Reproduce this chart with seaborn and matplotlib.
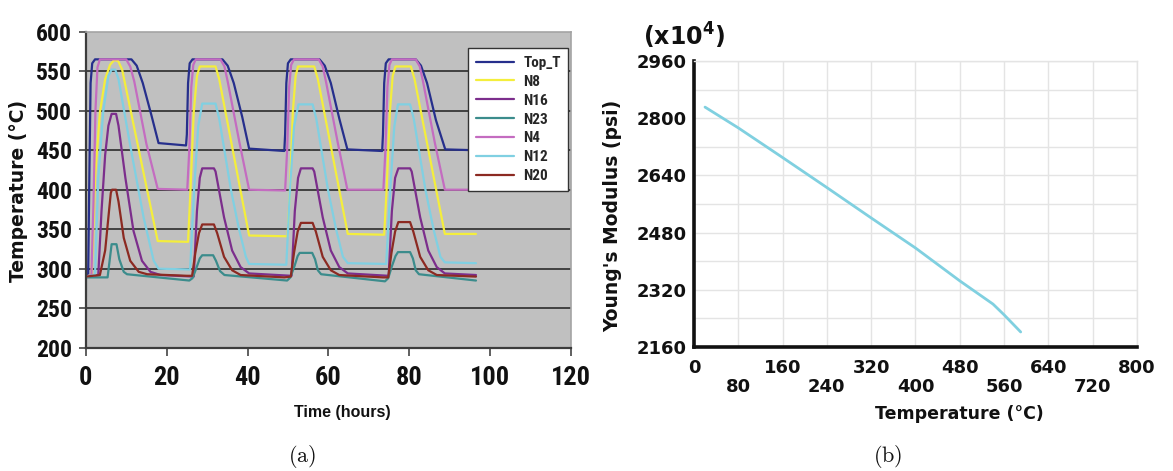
import matplotlib
matplotlib.use("Agg")
import matplotlib.pyplot as plt
from matplotlib import font_manager as fm
import pandas as pd
import seaborn as sns

# ---------------- data : panel (a) ----------------
names = ["Top_T", "N8", "N16", "N23", "N4", "N12", "N20"]
colors = ["#262f8c", "#f4ee3c", "#7c2e8c", "#3b8c8c", "#c46cc0", "#80d0e2", "#8c2a22"]

topT_t = [0, 0.6, 0.9, 1.2, 1.6, 2.3, 11.3, 12.6, 14.1, 16.2, 18.0, 24.8, 25.0, 25.3, 25.7, 26.4,
          33.8, 35.1, 36.6, 38.7, 40.4, 49.1, 49.3, 49.6, 50.0, 50.7, 57.8, 59.1, 60.6, 62.7, 64.7,
          73.3, 73.5, 73.8, 74.2, 74.9, 81.6, 82.9, 84.4, 86.6, 88.9, 96.0]
topT_T = [290, 293, 420, 535, 560, 565, 565, 557, 535, 495, 459, 456, 470, 535, 560, 565,
          565, 557, 535, 492, 452, 449, 470, 535, 560, 565, 565, 557, 535, 490, 451,
          449, 470, 535, 560, 565, 565, 557, 535, 488, 451, 450]

n8_t = [0, 1.4, 1.8, 2.3, 3.5, 4.8, 6.0, 7.0, 8.0, 9.0, 17.8, 25.3, 25.9, 26.7, 27.5, 28.2,
        32.1, 33.0, 40.4, 49.9, 50.5, 51.2, 51.9, 52.5, 56.5, 57.4, 64.8, 73.8, 74.4, 75.2,
        75.9, 76.6, 80.4, 81.3, 88.8, 96.5]
n8_T = [290, 292, 340, 415, 498, 540, 558, 564, 563, 552, 335, 334, 400, 498, 544, 556,
        556, 540, 342, 341, 400, 498, 544, 556, 556, 540, 344, 343, 400, 498,
        544, 556, 556, 540, 344, 344]

n16_t = [0, 3.1, 3.9, 4.8, 5.6, 6.4, 7.5, 8.1, 9.8, 11.8, 13.9, 16.0, 18.5, 26.7, 27.5, 28.2,
         28.8, 31.7, 32.1, 34.2, 36.2, 38.3, 40.4, 50.9, 51.7, 52.5, 53.2, 56.1, 56.5, 58.6,
         60.6, 62.7, 64.8, 74.9, 75.7, 76.5, 77.3, 80.2, 80.6, 82.7, 84.7, 86.8, 88.8, 96.5]
n16_T = [290, 292, 373, 444, 481, 496, 496, 481, 415, 348, 310, 296, 292, 290, 373, 415,
         427, 427, 423, 365, 323, 302, 294, 291, 373, 415, 427, 427, 423, 365,
         323, 302, 294, 291, 373, 415, 427, 427, 423, 365, 323, 302, 294, 292]

n23_t = [0, 0.05, 5.4, 5.9, 6.4, 7.6, 8.3, 9.4, 10.2, 25.6, 26.4, 27.3, 28.2, 28.8, 31.5, 32.2,
         33.2, 34.3, 49.8, 50.6, 51.6, 52.4, 52.9, 56.0, 56.7, 57.4, 58.2, 74.0, 74.8, 75.7,
         76.6, 77.2, 80.2, 80.9, 81.6, 82.4, 96.5]
n23_T = [200, 289, 289, 310, 331, 331, 312, 296, 293, 285, 288, 300, 313, 317, 317, 310,
         297, 292, 285, 289, 303, 316, 320, 320, 312, 298, 293, 284, 288, 303,
         316, 321, 321, 313, 298, 293, 285]

n4_t = [0, 1.4, 1.9, 2.4, 2.9, 3.5, 10.0, 11.0, 12.0, 15.0, 17.8, 25.1, 25.6, 26.1, 26.6, 27.2,
        33.3, 34.3, 35.1, 38.0, 40.4, 49.3, 49.8, 50.3, 50.8, 51.5, 57.6, 58.6, 59.4, 62.3, 64.7,
        73.6, 74.1, 74.6, 75.1, 75.7, 81.6, 82.6, 83.4, 86.3, 88.8, 96.5]
n4_T = [290, 292, 380, 500, 555, 565, 565, 556, 537, 458, 401, 400, 450, 530, 558, 565,
        565, 556, 537, 460, 400, 399, 450, 530, 558, 565, 565, 556, 537, 460, 400,
        400, 450, 530, 558, 565, 565, 556, 537, 460, 400, 400]

n12_t = [0, 2.3, 3.1, 4.3, 5.6, 6.4, 7.3, 8.1, 11.0, 14.3, 16.8, 18.0, 25.8, 26.8, 27.8, 28.8,
         32.1, 33.0, 35.9, 37.9, 39.6, 40.4, 49.6, 50.5, 51.5, 52.6, 56.1, 57.0, 59.9, 61.9,
         63.6, 64.8, 74.3, 75.3, 76.3, 77.2, 80.2, 81.1, 84.0, 86.0, 87.7, 88.8, 96.5]
n12_T = [290, 292, 415, 498, 544, 552, 552, 540, 456, 365, 310, 300, 299, 400, 480, 509,
         509, 490, 400, 350, 315, 306, 305, 400, 480, 508, 508, 490, 400, 350,
         315, 307, 306, 400, 480, 508, 508, 490, 400, 350, 315, 308, 307]

n20_t = [0, 3.5, 4.8, 5.6, 6.2, 6.5, 7.5, 8.1, 9.4, 11.0, 13.1, 15.2, 25.1, 26.3, 27.1, 28.0,
         28.8, 31.7, 32.5, 34.2, 36.2, 38.3, 49.1, 50.7, 51.5, 52.4, 53.2, 56.1, 56.9, 58.6,
         60.6, 62.7, 73.5, 74.8, 75.6, 76.5, 77.3, 80.2, 81.0, 82.7, 84.7, 86.8, 96.5]
n20_T = [290, 292, 323, 365, 396, 400, 400, 385, 339, 310, 296, 293, 291, 291, 320, 345,
         356, 356, 345, 315, 298, 292, 289, 290, 320, 347, 358, 358, 347, 315,
         298, 292, 289, 289, 320, 347, 359, 359, 347, 315, 298, 292, 290]

xticks_a = [0, 20, 40, 60, 80, 100, 120]
yticks_a = [200, 250, 300, 350, 400, 450, 500, 550, 600]

# ---------------- data : panel (b) ----------------
b_temp = [20, 80, 160, 240, 320, 400, 480, 540, 560, 590]
b_mod = [2831, 2773, 2690, 2606, 2521, 2437, 2345, 2280, 2250, 2202]
xticks_b_major = [0, 160, 320, 480, 640, 800]
xticks_b_minor = [80, 240, 400, 560, 720]
yticks_b_major = [2160, 2320, 2480, 2640, 2800, 2960]
yticks_b_minor = [2240, 2400, 2560, 2720, 2880]

# ---------------- style ----------------
sns.set_theme(style="white")
plt.rcParams["font.family"] = ["DejaVu Sans"]

avail = {f.name for f in fm.fontManager.ttflist}
narrow = None
for cand in ["Liberation Sans Narrow", "Roboto Condensed", "Open Sans Condensed",
             "Noto Sans Condensed", "Arial Narrow"]:
    if cand in avail:
        narrow = cand
        break
if narrow is not None:
    ysz, xsz, lsz = 17, 19, 11
else:
    narrow = "Liberation Sans"
    ysz, xsz, lsz = 15.5, 16.5, 10

fig = plt.figure(figsize=(11.73, 4.71), dpi=100)
axA = fig.add_axes([0.0731, 0.2618, 0.4137, 0.6709])
axB = fig.add_axes([0.5916, 0.2633, 0.3777, 0.6072])

# ---------------- panel (a) ----------------
series = [(topT_t, topT_T), (n8_t, n8_T), (n16_t, n16_T), (n23_t, n23_T),
          (n4_t, n4_T), (n12_t, n12_T), (n20_t, n20_T)]
df = pd.concat([pd.DataFrame({"Time": t, "Temp": T, "Node": nm})
                for nm, (t, T) in zip(names, series)], ignore_index=True)
sns.lineplot(data=df, x="Time", y="Temp", hue="Node", hue_order=names,
             palette=colors, estimator=None, sort=False, legend=False,
             linewidth=1.6, ax=axA)
for ln in axA.lines:
    ln.set_solid_joinstyle("round")

axA.set_facecolor("#c0c0c0")
axA.set_xlim(0, 120)
axA.set_ylim(200, 600)
axA.set_xticks(xticks_a)
axA.set_yticks(yticks_a)
axA.yaxis.grid(True, color="#2c2c2c", linewidth=1.2)
axA.xaxis.grid(False)
axA.set_axisbelow(True)
for s in ["left", "bottom"]:
    axA.spines[s].set_color("#3c3c3c")
    axA.spines[s].set_linewidth(1.6)
for s in ["top", "right"]:
    axA.spines[s].set_color("#a4a4a4")
    axA.spines[s].set_linewidth(1.2)
axA.tick_params(axis="x", direction="out", length=6, width=1.2, color="#444444",
                pad=7, labelsize=xsz, bottom=True)
axA.tick_params(axis="y", direction="out", length=5, width=1.2, color="#444444",
                pad=5, labelsize=ysz, left=True)
for lab in axA.get_xticklabels() + axA.get_yticklabels():
    lab.set_fontfamily([narrow, "DejaVu Sans"])
    lab.set_fontweight("bold")
    lab.set_color("#111111")
gl = axA.yaxis.get_gridlines()
gl[-1].set_visible(False)

axA.set_xlabel("Time (hours)", fontfamily=["Liberation Sans", "DejaVu Sans"],
               fontweight="bold", fontsize=11.5, va="center", color="#111111")
axA.xaxis.set_label_coords(0.528, -0.206)
axA.set_ylabel("Temperature (°C)", fontfamily=["DejaVu Sans"], fontweight="bold",
               fontsize=13.5, va="center", color="#111111")
axA.yaxis.set_label_coords(-0.1395, 0.496)

leg = axA.legend(handles=list(axA.lines), labels=names, loc="upper left",
                 bbox_to_anchor=(0.788, 0.9475), borderaxespad=0, frameon=True,
                 fancybox=False, framealpha=1, edgecolor="#333333", facecolor="white",
                 handlelength=2.5, handletextpad=0.6, borderpad=0.5, labelspacing=0.32,
                 prop={"family": [narrow, "DejaVu Sans"], "weight": "bold", "size": lsz})
leg.get_frame().set_linewidth(1.0)

# ---------------- panel (b) ----------------
sns.lineplot(x=b_temp, y=b_mod, color="#80d0e0", linewidth=2, ax=axB)
axB.set_facecolor("white")
axB.set_xlim(0, 800)
axB.set_ylim(2160, 2960)
axB.set_xticks(xticks_b_major)
axB.set_xticks(xticks_b_minor, labels=[str(v) for v in xticks_b_minor], minor=True)
axB.set_yticks(yticks_b_major)
axB.set_yticks(yticks_b_minor, minor=True)
axB.grid(True, which="both", color="#e4e4e4", linewidth=1.0)
axB.set_axisbelow(True)
for s in ["left", "bottom"]:
    axB.spines[s].set_color("#111111")
    axB.spines[s].set_linewidth(2.6)
for s in ["top", "right"]:
    axB.spines[s].set_color("#e4e4e4")
    axB.spines[s].set_linewidth(1.0)
axB.tick_params(axis="x", which="major", length=0, pad=9, labelsize=13)
axB.tick_params(axis="x", which="minor", length=0, pad=22, labelsize=13)
axB.tick_params(axis="y", which="both", length=0, pad=5, labelsize=13)
for lab in (axB.get_xticklabels() + axB.get_xticklabels(minor=True)
            + axB.get_yticklabels()):
    lab.set_fontfamily(["DejaVu Sans"])
    lab.set_fontweight("bold")
    lab.set_color("#111111")

axB.set_xlabel("Temperature (°C)", fontfamily=["DejaVu Sans"], fontweight="bold",
               fontsize=12.5, va="center", color="#111111")
axB.xaxis.set_label_coords(0.6, -0.236)
axB.set_ylabel("Young's Modulus (psi)", fontfamily=["DejaVu Sans"], fontweight="bold",
               fontsize=13.5, va="center", color="#111111")
axB.yaxis.set_label_coords(-0.183, 0.46)

fig.text(684 / 1173, 1 - 36 / 471, r"(x10$^{\mathbf{4}}$)", ha="center", va="center",
         fontsize=17, fontweight="bold", family="DejaVu Sans",
         math_fontfamily="dejavusans", color="#111111")

fig.text(302 / 1173, 1 - 457 / 471, r"$\mathrm{(a)}$", ha="center", va="center",
         fontsize=16, math_fontfamily="cm", color="#111111")
fig.text(888 / 1173, 1 - 457 / 471, r"$\mathrm{(b)}$", ha="center", va="center",
         fontsize=16, math_fontfamily="cm", color="#111111")

fig.savefig("out.png", dpi=100, facecolor="white")
